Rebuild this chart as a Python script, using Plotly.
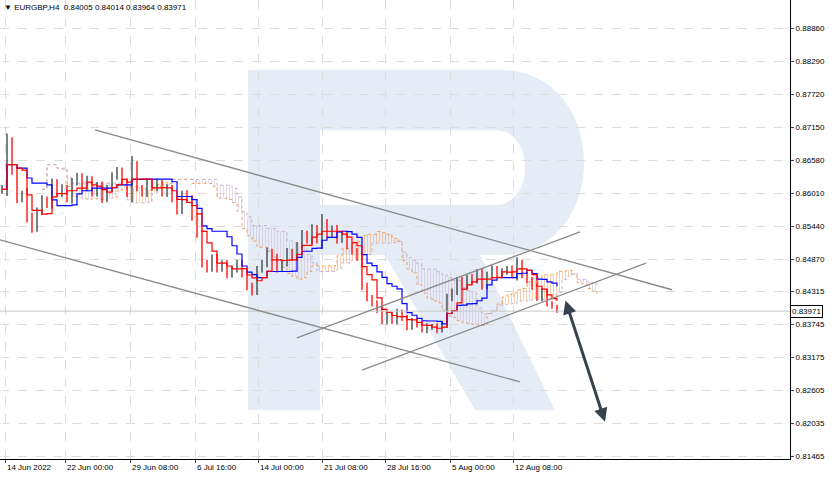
import plotly.graph_objects as go
import numpy as np

closes = [0.8610,0.8690,0.8640,0.8590,0.8600,0.8560,0.8540,0.8570,0.8590,0.8580,
          0.8620,0.8600,0.8610,0.8590,0.8620,0.8630,0.8610,0.8625,0.8600,0.8615,
          0.8590,0.8610,0.8630,0.8640,0.8620,0.8600,0.8650,0.8610,0.8600,0.8620,
          0.8610,0.8620,0.8600,0.8610,0.8590,0.8570,0.8600,0.8590,0.8560,0.8530,
          0.8480,0.8470,0.8490,0.8470,0.8480,0.8460,0.8470,0.8480,0.8460,0.8440,
          0.8430,0.8470,0.8480,0.8500,0.8490,0.8470,0.8480,0.8500,0.8490,0.8510,
          0.8530,0.8520,0.8540,0.8520,0.8550,0.8530,0.8540,0.8520,0.8530,0.8510,
          0.8500,0.8490,0.8440,0.8420,0.8410,0.8400,0.8380,0.8390,0.8380,0.8395,
          0.8385,0.8370,0.8380,0.8375,0.8365,0.8370,0.8370,0.8365,0.8375,0.8420,
          0.8430,0.8450,0.8440,0.8455,0.8450,0.8465,0.8440,0.8460,0.8470,0.8460,
          0.8465,0.8470,0.8460,0.8480,0.8460,0.8450,0.8440,0.8420,0.8430,0.8410,
          0.8405,0.83971]
wick = [10,28,15,12,10,20,15,12,14,10,
        12,10,12,10,14,12,10,12,10,10,
        12,10,14,12,10,12,30,12,10,12,
        10,12,10,12,10,12,10,12,14,12,
        15,12,10,12,10,12,10,12,10,14,
        12,10,12,14,10,12,10,12,10,12,
        14,12,14,12,30,12,10,12,10,12,
        10,12,14,12,10,12,10,12,10,12,
        10,12,10,12,10,12,10,12,10,14,
        12,10,12,10,12,10,12,10,12,10,
        12,10,12,20,12,10,12,10,12,10,
        8,6]
tick_idx = [0.6,12.6,25.6,38.6,51.2,64,76.6,89.6,102.2]
tick_lab = ["14 Jun 2022","22 Jun 00:00","29 Jun 08:00","6 Jul 16:00","14 Jul 00:00",
            "21 Jul 08:00","28 Jul 16:00","5 Aug 00:00","12 Aug 08:00"]
ytick_vals = [0.88860,0.88290,0.87720,0.87150,0.86580,0.86010,0.85440,0.84870,
              0.84315,0.83745,0.83175,0.82605,0.82035,0.81465]
trend_lines = [(18.6,0.8710,134,0.8434),(-0.4,0.8520,103.6,0.8275),
               (59,0.8351,115.6,0.8534),(72,0.8295,128.8,0.8480)]
arrow = (112.6,0.8418,120.6,0.8206)
last_price = 0.83971

n = len(closes)
x = np.arange(n)
c = np.array(closes)
o = np.concatenate([[closes[0]-0.0005], c[:-1]])
w = np.array(wick)*0.0001
hi = np.maximum(o,c)+w*0.5
lo = np.minimum(o,c)-w*0.5

def mid(p):
    return np.array([(hi[max(0,i-p+1):i+1].max()+lo[max(0,i-p+1):i+1].min())/2 for i in range(n)])
tenkan = mid(3); kijun = mid(8); spanB = mid(15); spanA = (tenkan+kijun)/2
shift = 8
xs = x+shift
base = np.minimum(spanA, spanB)
orange_top = np.where(spanA >= spanB, spanA, base)
lilac_top = np.where(spanB > spanA, spanB, base)

fig = go.Figure()
fig.add_trace(go.Scatter(x=xs, y=base, mode='lines', line=dict(width=0), line_shape='hv', hoverinfo='skip'))
fig.add_trace(go.Scatter(x=xs, y=orange_top, mode='lines', line=dict(color='#f0a060', width=1, dash='dot'), line_shape='hv',
                         fill='tonexty', fillcolor='rgba(0,0,0,0)',
                         fillpattern=dict(shape='|', fgcolor='#f0a060', bgcolor='rgba(0,0,0,0)', size=3, solidity=0.35), hoverinfo='skip'))
fig.add_trace(go.Scatter(x=xs, y=base, mode='lines', line=dict(width=0), line_shape='hv', hoverinfo='skip'))
fig.add_trace(go.Scatter(x=xs, y=lilac_top, mode='lines', line=dict(color='#c9b3cf', width=1, dash='dot'), line_shape='hv',
                         fill='tonexty', fillcolor='rgba(0,0,0,0)',
                         fillpattern=dict(shape='|', fgcolor='#c9b3cf', bgcolor='rgba(0,0,0,0)', size=3, solidity=0.35), hoverinfo='skip'))
for up, col in [(True, '#2f3f3f'), (False, '#ff0000')]:
    bx, by = [], []
    for i in range(n):
        if (c[i] >= o[i]) == up:
            bx += [i, i, None]; by += [lo[i], hi[i], None]
    fig.add_trace(go.Scatter(x=bx, y=by, mode='lines', line=dict(color=col, width=1.3), hoverinfo='skip'))
fig.add_trace(go.Scatter(x=x, y=kijun, mode='lines', line=dict(color='#0000ff', width=1.2, shape='hv')))
fig.add_trace(go.Scatter(x=x, y=tenkan, mode='lines', line=dict(color='#ff0000', width=1.2, shape='hv')))

W, H = 790, 459
def P(px, py):
    return f"{px/W:.4f},{1-py/H:.4f}"
rpath = ("M"+P(248,70)+" L"+P(500,70)+" C"+P(612,70)+" "+P(612,255)+" "+P(500,255)+
         " L"+P(480,255)+" L"+P(555,410)+" L"+P(475,410)+" L"+P(385,255)+" L"+P(320,255)+
         " L"+P(320,410)+" L"+P(248,410)+" Z")
hole = ("M"+P(320,130)+" L"+P(495,130)+" C"+P(535,130)+" "+P(535,205)+" "+P(495,205)+" L"+P(320,205)+" Z")
shapes = [dict(type='path', path=rpath, xref='paper', yref='paper', fillcolor='#e6ecf5', line=dict(width=0), layer='below'),
          dict(type='path', path=hole, xref='paper', yref='paper', fillcolor='white', line=dict(width=0), layer='below'),
          dict(type='line', xref='paper', x0=0, x1=1, y0=last_price, y1=last_price, line=dict(color='#c8c8c8', width=1))]
for (x0,y0,x1,y1) in trend_lines:
    shapes.append(dict(type='line', x0=x0, y0=y0, x1=x1, y1=y1, line=dict(color='#8a8a8a', width=1.3)))

FONT = 'Liberation Sans'
fig.add_annotation(x=arrow[2], y=arrow[3], ax=arrow[0], ay=arrow[1], axref='x', ayref='y', xref='x', yref='y',
                   showarrow=True, arrowhead=2, startarrowhead=2, arrowside='end+start', arrowsize=0.9,
                   startarrowsize=0.9, arrowwidth=3, arrowcolor='#36434f', text='')
fig.add_annotation(x=1, xref='paper', y=last_price, xanchor='left', text="0.83971", showarrow=False,
                   bgcolor='white', bordercolor='#000', borderwidth=1, borderpad=1,
                   font=dict(size=8, color='#000', family=FONT))
fig.add_annotation(x=0.003, y=0.998, xref='paper', yref='paper', xanchor='left', yanchor='top', showarrow=False,
                   text="▼ EURGBP,H4  0.84005 0.84014 0.83964 0.83971", font=dict(size=8, color='#000', family=FONT))
for ti, tl in zip(tick_idx, tick_lab):
    fig.add_annotation(x=ti, y=0, xref='x', yref='paper', xanchor='left', yanchor='top', yshift=-2, showarrow=False,
                       text=tl, font=dict(size=8, color='#000', family=FONT))

fig.update_layout(width=838, height=480, margin=dict(l=0, r=48, t=0, b=21, autoexpand=False), showlegend=False,
                  plot_bgcolor='white', paper_bgcolor='white', shapes=shapes,
                  font=dict(family=FONT, size=8, color='#000'))
fig.update_xaxes(range=[-0.4,157.6], tickvals=tick_idx, showticklabels=False, showgrid=True, gridcolor='#dcdcdc',
                 griddash='dash', showline=True, linecolor='#000', mirror=True,
                 ticks='outside', ticklen=3, automargin=False)
fig.update_yaxes(range=[0.81417,0.89344], side='right', tickvals=ytick_vals, ticktext=[f"{v:.5f}" for v in ytick_vals],
                 showgrid=True, gridcolor='#dcdcdc', griddash='dash', showline=True, linecolor='#000', mirror=True,
                 ticks='outside', ticklen=3, tickfont=dict(size=8), zeroline=False, automargin=False)
fig.write_html("out.html", post_script="document.body.style.margin='0';", config={'displayModeBar': False})
